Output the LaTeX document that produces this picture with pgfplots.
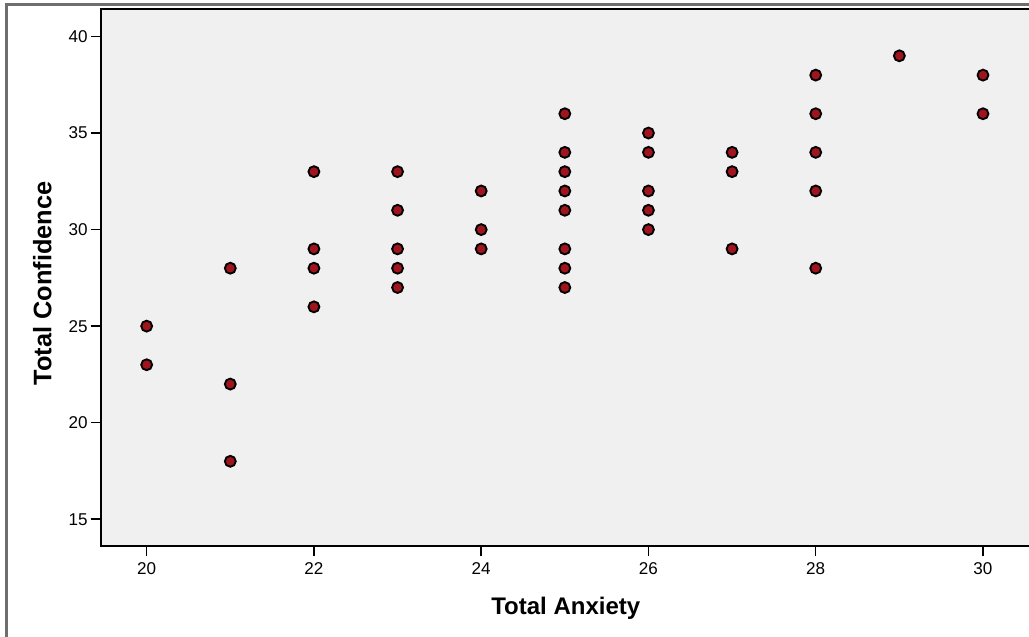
\documentclass[border=0pt]{standalone}
\usepackage{pgfplots}
\pgfplotsset{compat=1.18}
\usepackage{fontspec}
\setmainfont{Liberation Sans}
\definecolor{markred}{RGB}{160,20,30}
\definecolor{plotbg}{RGB}{240,240,240}
\definecolor{framegray}{RGB}{110,110,110}
\begin{document}
\begin{tikzpicture}
\useasboundingbox (0,0) rectangle (771.75pt,477pt);
\draw[framegray, line width=2.25pt] (4.9pt,-2pt) -- (4.9pt,473.25pt) -- (780pt,473.25pt);
\begin{axis}[
  at={(75.5pt,67.3pt)}, anchor=south west,
  scale only axis, width=700.5pt, height=402.75pt,
  xmin=19.45, xmax=30.618, ymin=13.60, ymax=41.41,
  axis background/.style={fill=plotbg},
  axis line style={line width=1.5pt, black},
  xtick={20,22,...,30}, ytick={15,20,...,40},
  tick align=outside, xtick pos=left, ytick pos=left,
  major tick length=7.5pt,
  tick style={line width=1.1pt, black},
  /pgf/number format/assume math mode=true,
  ticklabel style={font=\fontsize{12.8}{15}\selectfont},
  xticklabel style={inner sep=0pt, yshift=-4.3pt},
  yticklabel style={inner sep=0pt, xshift=-2pt},
  xlabel={Total Anxiety}, ylabel={Total Confidence},
  xlabel style={font=\bfseries\fontsize{18}{21}\selectfont,
    at={(axis description cs:0.498,-0.1266)}, anchor=base},
  ylabel style={font=\bfseries\fontsize{19}{22}\selectfont,
    at={(axis description cs:-0.0527,0.4896)}, anchor=base},
]
\addplot[only marks, mark=*, mark size=4.1pt,
  mark options={fill=markred, draw=black, line width=1.4pt}] coordinates {
  (20,25) (20,23)
  (21,28) (21,22) (21,18)
  (22,33) (22,29) (22,28) (22,26)
  (23,33) (23,31) (23,29) (23,28) (23,27)
  (24,32) (24,30) (24,29)
  (25,36) (25,34) (25,33) (25,32) (25,31) (25,29) (25,28) (25,27)
  (26,35) (26,34) (26,32) (26,31) (26,30)
  (27,34) (27,33) (27,29)
  (28,38) (28,36) (28,34) (28,32) (28,28)
  (29,39)
  (30,38) (30,36)
};
\end{axis}
\end{tikzpicture}
\end{document}
